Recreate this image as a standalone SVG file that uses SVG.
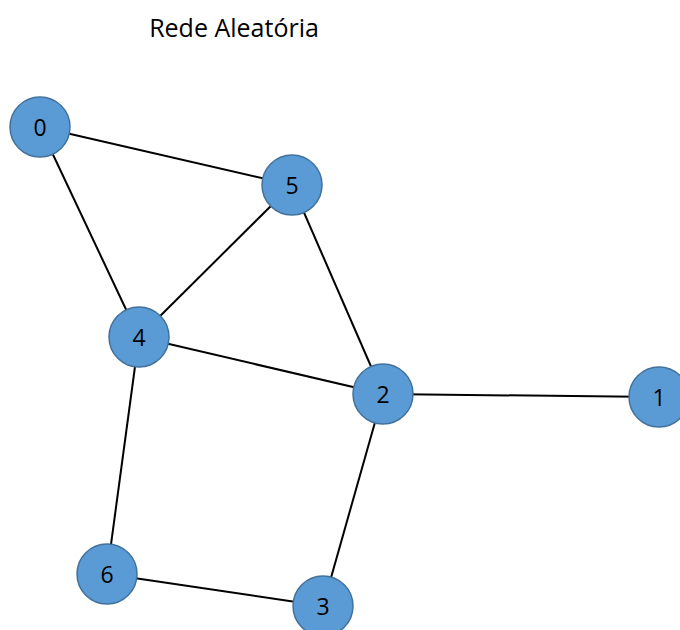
<svg xmlns="http://www.w3.org/2000/svg" width="680" height="630" viewBox="0 0 680 630">
<style>
.edge{stroke:#000;stroke-width:2;fill:none}
.node circle{fill:#5B9BD5;stroke:#41719C;stroke-width:1.5}
.node text{font-family:"Open Sans","Liberation Sans",sans-serif;font-size:23px;fill:#000;text-anchor:middle;dominant-baseline:central}
.title{font-family:"Open Sans","Liberation Sans",sans-serif;font-size:25px;fill:#000;text-anchor:middle}
</style>
<rect width="680" height="630" fill="#fff"/>
<text class="title" x="234" y="37">Rede Aleatória</text>
<g id="edges">
<line class="edge" x1="40" y1="127" x2="292" y2="185"/>
<line class="edge" x1="40" y1="127" x2="139" y2="337"/>
<line class="edge" x1="292" y1="185" x2="139" y2="337"/>
<line class="edge" x1="292" y1="185" x2="383" y2="394"/>
<line class="edge" x1="139" y1="337" x2="383" y2="394"/>
<line class="edge" x1="383" y1="394" x2="659" y2="397"/>
<line class="edge" x1="383" y1="394" x2="323" y2="606"/>
<line class="edge" x1="139" y1="337" x2="107" y2="574"/>
<line class="edge" x1="107" y1="574" x2="323" y2="606"/>
</g>
<g id="node0" class="node"><circle cx="40" cy="127" r="30"/><text x="40" y="127">0</text></g>
<g id="node5" class="node"><circle cx="292" cy="185" r="30"/><text x="292" y="185">5</text></g>
<g id="node4" class="node"><circle cx="139" cy="337" r="30"/><text x="139" y="337">4</text></g>
<g id="node2" class="node"><circle cx="383" cy="394" r="30"/><text x="383" y="394">2</text></g>
<g id="node1" class="node"><circle cx="659" cy="397" r="30"/><text x="659" y="397">1</text></g>
<g id="node6" class="node"><circle cx="107" cy="574" r="30"/><text x="107" y="574">6</text></g>
<g id="node3" class="node"><circle cx="323" cy="606" r="30"/><text x="323" y="606">3</text></g>
</svg>
